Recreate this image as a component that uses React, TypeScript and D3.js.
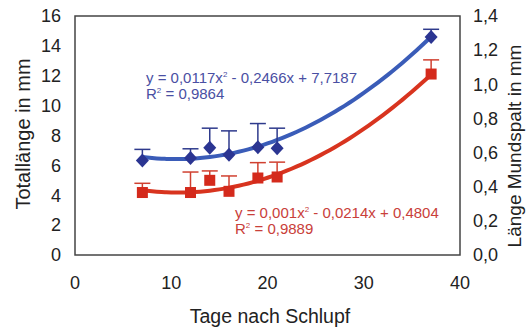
import React, { useLayoutEffect } from 'react';
import * as d3 from 'd3';

// days after hatching
const days = [7, 12, 14, 16, 19, 21, 37];

// total length (mm), left axis
const totalLength = [6.33, 6.49, 7.18, 6.71, 7.22, 7.15, 14.6];
const totalLengthErr = [0.74, 0.62, 1.31, 1.6, 1.58, 1.34, 0.51];

// mouth gap length (mm), right axis
const mouthGap = [0.366, 0.366, 0.4375, 0.373, 0.451, 0.457, 1.06];
const mouthGapErr = [0.054, 0.12, 0.055, 0.09, 0.09, 0.087, 0.083];

// trend line coefficients [a, b, c] for a*x^2 + b*x + c
const blueCoef = [0.0117, -0.2466, 7.7187];
const redCoef = [0.001, -0.0214, 0.4804];

const xTicks = [0, 10, 20, 30, 40];
const leftTicks = [0, 2, 4, 6, 8, 10, 12, 14, 16];
const rightTicks = [0, 0.2, 0.4, 0.6, 0.8, 1.0, 1.2, 1.4];

const W = 527;
const H = 331;
const plot = { left: 75, right: 460, top: 16, bottom: 255 };
const font = '"Liberation Sans", Arial, sans-serif';

const App: React.FC = () => {
  useLayoutEffect(() => {
    document.body.style.margin = '0';
  }, []);

  const x = d3.scaleLinear().domain([0, 40]).range([plot.left, plot.right]);
  const yL = d3.scaleLinear().domain([0, 16]).range([plot.bottom, plot.top]);
  const yR = d3.scaleLinear().domain([0, 1.4]).range([plot.bottom, plot.top]);

  const poly = (c: number[]) => (t: number) => c[0] * t * t + c[1] * t + c[2];
  const xs = d3.range(days[0], days[days.length - 1] + 0.01, 0.5);

  const blueLine = d3.line<number>().x(d => x(d)).y(d => yL(poly(blueCoef)(d))).curve(d3.curveMonotoneX);
  const redLine = d3.line<number>().x(d => x(d)).y(d => yR(poly(redCoef)(d))).curve(d3.curveMonotoneX);

  const fmt = (v: number) => v.toFixed(1).replace('.', ',');

  return (
    <svg width={W} height={H} style={{ display: 'block', background: '#fff' }} fontFamily={font}>
      <rect x={plot.left} y={plot.top} width={plot.right - plot.left} height={plot.bottom - plot.top}
        fill="none" stroke="#444" strokeWidth={1.5} />

      {/* left ticks */}
      {leftTicks.map(t => (
        <text key={'l' + t} x={61} y={yL(t)} dy="0.35em" textAnchor="end" fontSize={18} fill="#222">{t}</text>
      ))}
      {/* right ticks */}
      {rightTicks.map(t => (
        <text key={'r' + t} x={473} y={yR(t)} dy="0.35em" textAnchor="start" fontSize={18} fill="#222">{fmt(t)}</text>
      ))}
      {/* x ticks */}
      {xTicks.map(t => (
        <text key={'x' + t} x={x(t)} y={283} dy="0.35em" textAnchor="middle" fontSize={18} fill="#222">{t}</text>
      ))}

      <text x={270} y={316} dy="0.35em" textAnchor="middle" fontSize={19.5} fill="#222">Tage nach Schlupf</text>
      <text transform={`translate(23,134) rotate(-90)`} dy="0.35em" textAnchor="middle" fontSize={20} fill="#222">Totallänge in mm</text>
      <text transform={`translate(514,146) rotate(-90)`} dy="0.35em" textAnchor="middle" fontSize={19} fill="#222">Länge Mundspalt in mm</text>

      {/* trend lines */}
      <path d={blueLine(xs) || ''} fill="none" stroke="#3a5cb8" strokeWidth={4} />
      <path d={redLine(xs) || ''} fill="none" stroke="#d8341f" strokeWidth={4} />

      {/* blue error bars + diamonds */}
      {days.map((d, i) => {
        const cx = x(d);
        const cy = yL(totalLength[i]);
        const top = yL(totalLength[i] + totalLengthErr[i]);
        return (
          <g key={'b' + i}>
            <line x1={cx} x2={cx} y1={cy} y2={top} stroke="#2e3a8c" strokeWidth={1.5} />
            <line x1={cx - 8} x2={cx + 8} y1={top} y2={top} stroke="#2e3a8c" strokeWidth={1.5} />
            <path d={`M${cx},${cy - 7}L${cx + 6.5},${cy}L${cx},${cy + 7}L${cx - 6.5},${cy}Z`} fill="#2b3592" />
          </g>
        );
      })}

      {/* red error bars + squares */}
      {days.map((d, i) => {
        const cx = x(d);
        const cy = yR(mouthGap[i]);
        const top = yR(mouthGap[i] + mouthGapErr[i]);
        return (
          <g key={'r' + i}>
            <line x1={cx} x2={cx} y1={cy} y2={top} stroke="#d04030" strokeWidth={1.5} />
            <line x1={cx - 8} x2={cx + 8} y1={top} y2={top} stroke="#d04030" strokeWidth={1.5} />
            <rect x={cx - 5.5} y={cy - 5.5} width={11} height={11} fill="#d42a1c" />
          </g>
        );
      })}

      {/* equations */}
      <g fontSize={15} fill="#4a4fa3">
        <text x={146} y={83}>y = 0,0117x<tspan dy={-6} fontSize={8}>2</tspan><tspan dy={6}> - 0,2466x + 7,7187</tspan></text>
        <text x={146} y={99}>R<tspan dy={-6} fontSize={8}>2</tspan><tspan dy={6}> = 0,9864</tspan></text>
      </g>
      <g fontSize={15} fill="#c9403a">
        <text x={235} y={218}>y = 0,001x<tspan dy={-6} fontSize={8}>2</tspan><tspan dy={6}> - 0,0214x + 0,4804</tspan></text>
        <text x={235} y={234}>R<tspan dy={-6} fontSize={8}>2</tspan><tspan dy={6}> = 0,9889</tspan></text>
      </g>
    </svg>
  );
};

export default App;
